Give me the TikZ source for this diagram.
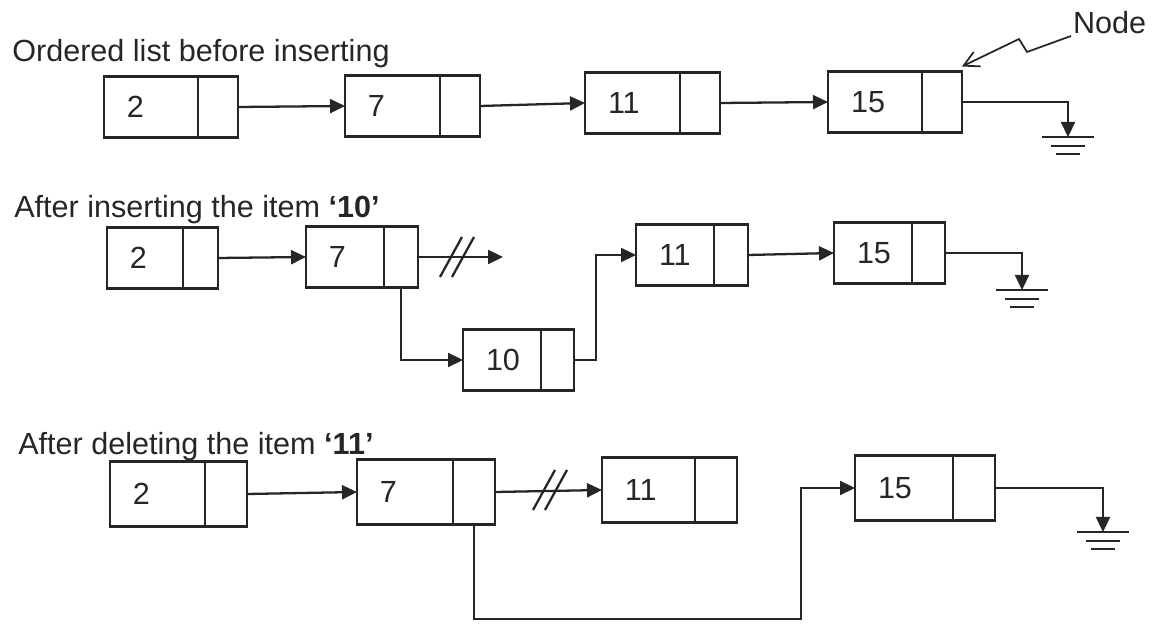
\documentclass[tikz,border=0pt]{standalone}
\usepackage{fontspec}
\setmainfont{Liberation Sans}
\usetikzlibrary{arrows.meta,positioning}
\tikzset{
  cell/.style     = {draw, line width=1.3pt, text width=#1, inner xsep=0pt,
                     outer sep=0pt, align=left, minimum height=1.22cm,
                     execute at begin node=\hspace*{0.46cm}},
  linkcell/.style = {draw, line width=1.3pt, minimum width=#1, outer sep=0pt,
                     minimum height=1.22cm, inner sep=0pt},
  link/.style     = {-{Triangle[length=3mm,width=2.8mm]}, line width=1.3pt},
  heading/.style  = {anchor=base west, inner sep=0pt},
  zigzag/.style   = {-{Straight Barb[length=3mm,width=3.2mm]}, line width=1pt},
  earth/.pic      = {
    \draw[line width=1.3pt] (-26,0) -- (26,0);
    \draw[line width=1.3pt] (-17,9) -- (17,9);
    \draw[line width=1.3pt] (-12,17) -- (12,17);
  },
  cut/.pic        = {
    \draw[line width=1.3pt] (-17,20) -- (5,-20);
    \draw[line width=1.3pt] (-5,20) -- (17,-20);
  },
}

\begin{document}
\begin{tikzpicture}[x=0.02cm, y=-0.02cm, color=black!85,
                    every node/.style={font=\fontsize{17.4}{20}\selectfont}]
  \useasboundingbox (0,0) rectangle (1154,624);

  % before inserting
  \node[heading] (t1) at (12,62) {Ordered list before inserting};
  \node[cell=1.88cm, anchor=west] (a2) at (104,107) {2};
  \node[linkcell=0.8cm, right=0pt of a2] (a2p) {};
  \node[cell=1.9cm, anchor=west] (a7) at (345,106) {7};
  \node[linkcell=0.8cm, right=0pt of a7] (a7p) {};
  \node[cell=1.9cm, anchor=west] (a11) at (585,103) {11};
  \node[linkcell=0.8cm, right=0pt of a11] (a11p) {};
  \node[cell=1.88cm, anchor=west] (a15) at (828,102) {15};
  \node[linkcell=0.8cm, right=0pt of a15] (a15p) {};
  \coordinate (aend) at (1068,137);

  \draw[link] (a2p.east) -- (a7.west);
  \draw[link] (a7p.east) -- (a11.west);
  \draw[link] (a11p.east) -- (a15.west);
  \draw[link] (a15p.east) -| (aend);
  \pic at (aend) {earth};

  \node[anchor=south west, inner sep=1pt] (nodelbl) at (1071,36) {Node};
  \draw[zigzag] (nodelbl.south west) -- (1027,52) -- (1019,39)
       -- ([yshift=0.1cm]a15p.north east);

  % after inserting 10
  \node[heading] (t2) at (14,218) {After inserting the item \textbf{‘10’}};
  \node[cell=1.52cm, anchor=west] (b2) at (107,258) {2};
  \node[linkcell=0.7cm, right=0pt of b2] (b2p) {};
  \node[cell=1.56cm, anchor=west] (b7) at (306,257) {7};
  \node[linkcell=0.68cm, right=0pt of b7] (b7p) {};
  \node[cell=1.56cm, anchor=west] (b10) at (463,360) {10};
  \node[linkcell=0.66cm, right=0pt of b10] (b10p) {};
  \node[cell=1.56cm, anchor=west] (b11) at (636,255) {11};
  \node[linkcell=0.68cm, right=0pt of b11] (b11p) {};
  \node[cell=1.56cm, anchor=west] (b15) at (834,253) {15};
  \node[linkcell=0.66cm, right=0pt of b15] (b15p) {};
  \coordinate (bnull) at (503,257);
  \coordinate (bturn) at (596,360);
  \coordinate (bend) at (1022,290);

  \draw[link] (b2p.east) -- (b7.west);
  \draw[link] (b7p.east) -- (bnull);
  \pic at (457,257) {cut};
  \draw[link] (b7p.south) |- (b10.west);
  \draw[link] (b10p.east) -- (bturn) |- (b11.west);
  \draw[link] (b11p.east) -- (b15.west);
  \draw[link] (b15p.east) -| (bend);
  \pic at (bend) {earth};

  % after deleting 11
  \node[heading] (t3) at (18,455) {After deleting the item \textbf{‘11’}};
  \node[cell=1.9cm, anchor=west, minimum height=1.3cm] (c2) at (110,494) {2};
  \node[linkcell=0.84cm, minimum height=1.3cm, right=0pt of c2] (c2p) {};
  \node[cell=1.92cm, anchor=west, minimum height=1.3cm] (c7) at (357,492) {7};
  \node[linkcell=0.84cm, minimum height=1.3cm, right=0pt of c7] (c7p) {};
  \node[cell=1.86cm, anchor=west, minimum height=1.3cm] (c11) at (602,490) {11};
  \node[linkcell=0.84cm, minimum height=1.3cm, right=0pt of c11] (c11p) {};
  \node[cell=1.96cm, anchor=west, minimum height=1.3cm] (c15) at (855,488) {15};
  \node[linkcell=0.84cm, minimum height=1.3cm, right=0pt of c15] (c15p) {};
  \coordinate (cturn) at (801,619);
  \coordinate (cend) at (1103,532);

  \draw[link] (c2p.east) -- (c7.west);
  \draw[link] (c7p.east) -- (c11.west);
  \pic at (550,490) {cut};
  \draw[link] (c7p.south) |- (cturn) |- (c15.west);
  \draw[link] (c15p.east) -| (cend);
  \pic at (cend) {earth};
\end{tikzpicture}
\end{document}
